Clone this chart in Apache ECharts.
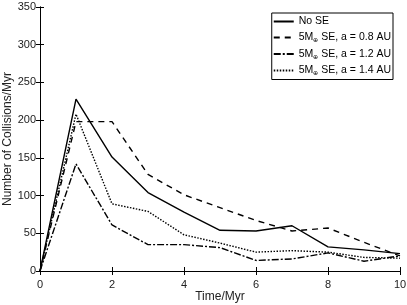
<!DOCTYPE html>
<html><head><meta charset="utf-8">
<script src="https://cdn.jsdelivr.net/npm/echarts@6/dist/echarts.min.js"></script>
<style>html,body{margin:0;padding:0;background:#fff}#c{width:407px;height:305px}</style>
</head><body><div id="c"></div>
<script>
const time = [0,1,2,3,4,5,6,7,8,9,10];
const noSE = [0,228,151,104,78,54,53,60,32,28,23];
const se08 = [0,198,198,128,101,84,67,53,57,38,20];
const se12 = [0,142,61,35,35,31,14,16,24,13,20];
const se14 = [0,208,89,79,48,37,25,27,25,18,17];
const names = ['No SE','5M⊕ SE, a = 0.8 AU','5M⊕ SE, a = 1.2 AU','5M⊕ SE, a = 1.4 AU'];
const xTicks = [0,2,4,6,8,10];
const yTicks = [0,50,100,150,200,250,300,350];

const font = 'Liberation Sans';
const chart = echarts.init(document.getElementById('c'));
function pairs(v){return time.map((t,i)=>[t,v[i]]);}
function series(name, data, type){
  return {name, type:'line', data:pairs(data), symbol:'none', showSymbol:false,
    lineStyle:{color:'#000', width:1.4, type:type}, itemStyle:{color:'#000'}, animation:false};
}
const axisCommon = {
  axisLine:{show:true, lineStyle:{color:'#000', width:1}},
  axisTick:{show:true, inside:true, length:4, lineStyle:{color:'#000'}},
  splitLine:{show:false}
};
chart.setOption({
  animation:false,
  grid:{left:40, right:7, top:7, bottom:34, containLabel:false, outerBoundsMode:'none'},
  xAxis:[
    Object.assign({type:'value', min:0, max:10, interval:2, position:'bottom',
      name:'Time/Myr', nameLocation:'middle', nameGap:20, nameMoveOverlap:false,
      nameTextStyle:{fontFamily:font, fontSize:12, color:'#222'},
      axisLabel:{fontFamily:font, fontSize:11, color:'#222', margin:8}}, axisCommon),
    Object.assign({type:'value', min:0, max:10, interval:2, position:'top', axisLabel:{show:false}}, axisCommon)
  ],
  yAxis:[
    Object.assign({type:'value', min:0, max:350, interval:50, position:'left',
      name:'Number of Collisions/Myr', nameLocation:'middle', nameGap:26, nameMoveOverlap:false,
      nameTextStyle:{fontFamily:font, fontSize:12, color:'#222'},
      axisLabel:{fontFamily:font, fontSize:11, color:'#222', margin:4}}, axisCommon),
    Object.assign({type:'value', min:0, max:350, interval:50, position:'right', axisLabel:{show:false}}, axisCommon)
  ],
  legend:{
    orient:'vertical', right:14, top:13, padding:[3,2,3,1],
    backgroundColor:'#fff', borderColor:'#000', borderWidth:1,
    itemWidth:20, itemHeight:10, itemGap:5,
    itemStyle:{opacity:0},
    data:names,
    textStyle:{fontFamily:font, fontSize:10.5, color:'#000',
      rich:{s:{fontFamily:font, fontSize:6, verticalAlign:'bottom', padding:[6,0,0,0], color:'#000'},
            t:{fontFamily:font, fontSize:10.5, color:'#000'}}},
    formatter:function(n){
      if(n.indexOf('⊕')<0) return '{t|'+n+'}';
      const p=n.split('⊕');
      return '{t|'+p[0]+'}{s|⊕}{t|'+p[1]+'}';
    }
  },
  series:[
    series(names[0], noSE, 'solid'),
    series(names[1], se08, [6,5]),
    series(names[2], se12, [7,2,2,2]),
    series(names[3], se14, [1.5,1.5])
  ]
});
</script></body></html>
